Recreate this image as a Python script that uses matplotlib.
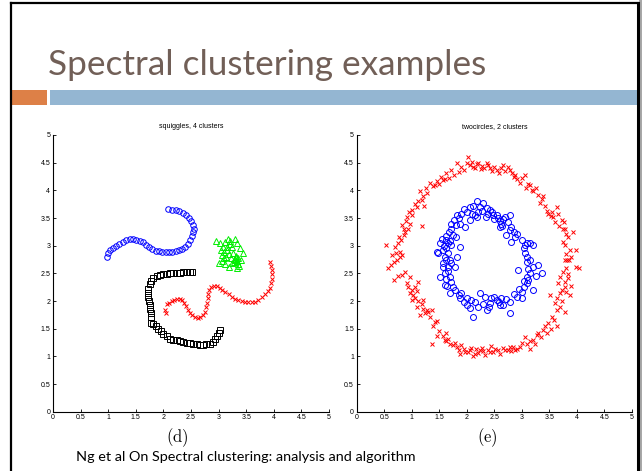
import matplotlib
matplotlib.use('Agg')
from matplotlib import pyplot as plt
from matplotlib.patches import Rectangle
from matplotlib.lines import Line2D

plt.rcParams['mathtext.fontset'] = 'cm'

# ---- data: squiggles, 4 clusters ----
sq_blue_x = [0.97, 1.00, 1.04, 1.09, 1.14, 1.20, 1.26, 1.33, 1.39, 1.45, 1.51, 1.57, 1.63, 1.68,
             1.74, 1.80, 1.86, 1.92, 1.98, 2.04, 2.10, 2.16, 2.22, 2.28, 2.34, 2.40, 2.45, 2.49,
             2.52, 2.54, 2.55, 2.53, 2.50, 2.46, 2.41, 2.35, 2.29, 2.22, 2.15, 2.08]
sq_blue_y = [2.80, 2.87, 2.92, 2.96, 3.00, 3.03, 3.07, 3.10, 3.12, 3.12, 3.11, 3.09, 3.06, 3.02,
             2.98, 2.94, 2.91, 2.90, 2.89, 2.89, 2.89, 2.89, 2.90, 2.92, 2.94, 2.98, 3.03, 3.10,
             3.17, 3.24, 3.31, 3.38, 3.44, 3.50, 3.55, 3.59, 3.62, 3.64, 3.65, 3.66]

sq_black_x = [2.52, 2.48, 2.42, 2.36, 2.30, 2.24, 2.18, 2.12, 2.06, 2.00, 1.94, 1.88, 1.82, 1.78,
              1.75, 1.73, 1.72, 1.73, 1.74, 1.75, 1.76, 1.77, 1.77, 1.78, 1.82, 1.86, 1.90, 1.95,
              2.00, 2.06, 2.12, 2.18, 2.24, 2.30, 2.36, 2.42, 2.48, 2.54, 2.60, 2.66, 2.72, 2.78,
              2.84, 2.90, 2.94, 2.97, 3.00, 3.02]
sq_black_y = [2.53, 2.52, 2.52, 2.52, 2.51, 2.51, 2.51, 2.50, 2.49, 2.48, 2.47, 2.45, 2.42, 2.37,
              2.30, 2.22, 2.14, 2.07, 2.00, 1.93, 1.86, 1.79, 1.72, 1.61, 1.58, 1.54, 1.50, 1.45,
              1.41, 1.36, 1.32, 1.30, 1.29, 1.28, 1.26, 1.25, 1.24, 1.23, 1.22, 1.21, 1.21, 1.22,
              1.23, 1.26, 1.31, 1.37, 1.42, 1.48]

sq_red_x = [2.03, 2.05, 2.06, 2.10, 2.15, 2.20, 2.25, 2.30, 2.34, 2.38, 2.41, 2.44, 2.48, 2.52,
            2.57, 2.62, 2.67, 2.71, 2.75, 2.78, 2.79, 2.80, 2.81, 2.83, 2.87, 2.92, 2.97, 3.02,
            3.07, 3.12, 3.18, 3.24, 3.30, 3.36, 3.42, 3.48, 3.54, 3.60, 3.66, 3.72, 3.78, 3.84,
            3.89, 3.93, 3.95, 3.96, 3.96, 3.96, 3.95, 3.94]
sq_red_y = [1.84, 1.79, 1.94, 1.97, 2.00, 2.02, 2.03, 2.03, 2.01, 1.97, 1.91, 1.84, 1.78, 1.74,
            1.71, 1.70, 1.71, 1.75, 1.81, 1.89, 1.97, 2.05, 2.13, 2.20, 2.26, 2.28, 2.27, 2.24,
            2.20, 2.16, 2.12, 2.08, 2.04, 2.01, 2.00, 1.99, 1.98, 1.98, 1.99, 2.02, 2.07, 2.12,
            2.18, 2.24, 2.32, 2.40, 2.48, 2.56, 2.64, 2.71]

sq_green_x = [2.96, 3.02, 3.08, 3.12, 3.17, 3.20, 3.24, 3.29, 3.33, 3.38, 3.44, 3.04, 3.10, 3.15,
              3.19, 3.26, 3.31, 3.35, 3.29, 3.33, 3.28, 3.36, 3.40, 3.22, 3.14, 3.06, 3.00, 3.07,
              3.12, 3.18, 3.25, 3.34, 3.37, 3.31, 3.30, 3.16, 3.21, 3.10]
sq_green_y = [3.09, 3.05, 2.98, 3.06, 3.12, 3.03, 2.97, 3.12, 3.05, 2.95, 2.87, 2.92, 2.88, 2.92,
              2.85, 2.87, 2.82, 2.78, 2.76, 2.72, 2.70, 2.66, 2.74, 2.78, 2.80, 2.83, 2.68, 2.72,
              2.66, 2.62, 2.68, 2.60, 2.63, 2.80, 2.74, 2.98, 3.08, 2.77]

# ---- data: twocircles, 2 clusters ----
tc_red_x = [1.63, 1.68, 1.72, 1.76, 1.82, 1.85, 1.90, 1.95, 2.00, 2.03, 2.06, 2.09, 2.12, 2.15,
            2.18, 2.21, 2.25, 2.28, 2.32, 2.36, 2.39, 2.42, 2.46, 2.50, 2.54, 2.58, 2.62, 2.66,
            2.70, 2.74, 2.78, 2.82, 2.85, 2.88, 2.92,
            2.97, 3.00, 3.06, 3.08, 3.12, 3.15, 3.19, 3.21, 3.25, 3.30, 3.33, 3.36, 3.39, 3.42,
            3.45, 3.48, 3.52, 3.55, 3.57, 3.60, 3.63, 3.66, 3.68, 3.72, 3.74, 3.78, 3.76, 3.80,
            3.84, 3.93,
            3.75, 3.78, 3.87, 3.99, 3.80, 3.90, 3.78, 3.82, 3.86, 3.99, 4.03, 3.81, 3.75, 3.84,
            3.69, 3.84, 3.78, 3.66, 3.78, 3.90, 3.72, 3.69, 3.87, 3.80, 3.51, 3.63, 3.72, 3.60,
            3.69, 3.78, 3.63, 3.54, 3.58, 3.63, 3.48, 3.52, 3.42, 3.39, 3.45, 3.30, 3.35, 3.27,
            3.21, 3.24, 3.15, 3.09, 3.15, 3.05, 2.97, 3.00, 2.92, 2.88, 2.84, 2.80,
            2.78, 2.74, 2.69, 2.65, 2.60, 2.56, 2.51, 2.47, 2.44, 2.42, 2.38, 2.33, 2.30, 2.27,
            2.24, 2.20, 2.17, 2.15, 2.11, 2.08, 2.06, 2.02, 1.97, 1.94, 1.90, 1.87, 1.85, 1.82,
            1.78, 1.74, 1.69, 1.66, 1.63, 1.60, 1.63, 1.57,
            1.45, 1.50, 1.42, 1.39, 1.36, 1.45, 1.33, 1.30, 1.27, 1.36, 1.24, 1.21, 1.15, 1.18,
            1.09, 1.12, 1.21, 1.06, 1.00, 1.03, 0.97, 1.09, 1.06, 1.00, 0.93, 0.91, 1.12, 0.97,
            0.82, 0.88, 0.67, 0.75,
            0.57, 0.62, 0.73, 0.68, 0.78, 0.64, 0.72, 0.79, 0.82, 0.70, 0.75, 0.54, 0.80, 0.76,
            0.85, 0.88, 0.85, 0.93, 0.97, 0.90, 0.82,
            0.91, 1.00, 0.95, 1.00, 1.09, 1.05, 1.12, 1.18, 1.22, 1.15, 1.20, 1.27, 1.25, 1.33,
            1.38, 1.45, 1.42, 1.50, 1.57, 1.53, 1.60, 1.18]
tc_red_y = [4.31, 4.22, 4.37, 4.28, 4.49, 4.33, 4.42, 4.37, 4.50, 4.60, 4.45, 4.52, 4.43, 4.40,
            4.47, 4.49, 4.38, 4.44, 4.41, 4.49, 4.45, 4.40, 4.35, 4.43, 4.37, 4.31, 4.40, 4.46,
            4.35, 4.42, 4.37, 4.31, 4.25, 4.28, 4.20,
            4.13, 4.22, 4.28, 4.05, 4.12, 4.10, 4.00, 3.98, 4.05, 3.92, 3.77, 3.85, 3.89, 3.72,
            3.63, 3.58, 3.53, 3.60, 3.52, 3.42, 3.70, 3.58, 3.36, 3.46, 3.30, 3.31, 3.42, 3.22,
            3.15, 3.25,
            3.07, 3.02, 2.92, 2.92, 2.85, 2.80, 2.74, 2.74, 2.74, 2.62, 2.60, 2.59, 2.52, 2.48,
            2.44, 2.41, 2.35, 2.32, 2.26, 2.28, 2.20, 2.14, 2.11, 2.16, 2.11, 2.05, 2.00, 1.97,
            1.90, 1.81, 1.84, 1.72, 1.65, 1.54, 1.60, 1.50, 1.55, 1.48, 1.42, 1.42, 1.35, 1.38,
            1.30, 1.22, 1.27, 1.23, 1.14, 1.35, 1.17, 1.25, 1.14, 1.11, 1.17, 1.10,
            1.17, 1.12, 1.11, 1.15, 1.05, 1.12, 1.14, 1.08, 1.18, 1.08, 1.12, 1.02, 1.10, 1.15,
            1.11, 1.06, 1.13, 1.05, 1.00, 1.16, 1.11, 1.08, 1.08, 1.14, 1.20, 1.05, 1.12, 1.17,
            1.25, 1.20, 1.23, 1.32, 1.27, 1.30, 1.42, 1.36,
            1.36, 1.45, 1.62, 1.54, 1.22, 1.63, 1.72, 1.80, 1.84, 1.84, 1.78, 1.85, 1.75, 1.95,
            1.90, 2.00, 2.02, 2.05, 2.02, 2.10, 2.14, 2.18, 2.26, 2.20, 2.25, 2.32, 2.35, 2.44,
            2.47, 2.52, 2.38, 2.46,
            2.59, 2.65, 2.74, 2.70, 2.80, 2.83, 2.86, 2.89, 2.84, 2.98, 3.04, 3.01, 3.10, 3.16,
            3.20, 3.25, 3.31, 3.30, 3.40, 3.45, 3.38,
            3.52, 3.55, 3.60, 3.64, 3.70, 3.75, 3.80, 3.83, 3.72, 3.98, 3.90, 3.95, 4.05, 4.13,
            4.08, 4.16, 4.10, 4.12, 4.19, 4.25, 4.20, 3.36]

tc_blue_x = [2.18, 2.30, 2.12, 2.24, 2.06, 1.94, 2.00, 2.36, 2.42, 2.45, 2.38, 2.48, 2.54, 2.56,
             2.60, 2.62, 2.66, 2.70, 2.78, 2.75, 2.60, 2.64, 2.20, 2.28, 2.14, 2.06, 2.18, 2.10,
             1.90, 1.82, 1.86, 1.76, 1.88, 1.97, 1.80, 1.72, 2.34, 2.50,
             2.81, 2.78, 2.72, 2.85, 2.91, 2.88, 2.81, 3.00, 3.06, 3.09, 3.03, 3.21, 3.15, 3.06,
             3.10, 3.15, 3.09, 3.30, 3.20, 3.12, 2.93, 3.36, 3.15, 3.25, 3.09, 3.09, 3.03, 3.12,
             3.21, 3.03, 3.00, 2.95, 2.91, 3.00, 2.85,
             2.78, 2.72, 2.66, 2.78, 2.60, 2.54, 2.58, 2.62, 2.50, 2.42, 2.44, 2.36, 2.40, 2.33,
             2.30, 2.24, 2.21, 2.15, 2.06, 2.11, 2.08, 2.00, 1.94, 2.00, 1.88, 1.85, 1.90,
             1.78, 1.69, 1.74, 1.64, 1.60, 1.72, 1.51, 1.62, 1.69, 1.60, 1.66, 1.57, 1.66, 1.79,
             1.72, 1.57, 1.62, 1.69, 1.60, 1.82, 1.66, 1.48, 1.45, 1.56, 1.62, 1.72, 1.66, 1.51,
             1.58, 1.88, 1.63, 1.55, 1.70, 1.75, 1.68, 1.80, 1.72, 1.62]
tc_blue_y = [3.81, 3.77, 3.72, 3.70, 3.70, 3.66, 3.60, 3.68, 3.64, 3.60, 3.58, 3.55, 3.55, 3.50,
             3.45, 3.40, 3.49, 3.52, 3.55, 3.42, 3.34, 3.36, 3.60, 3.62, 3.55, 3.46, 3.52, 3.58,
             3.58, 3.55, 3.50, 3.46, 3.40, 3.34, 3.38, 3.40, 3.52, 3.48,
             3.34, 3.28, 3.19, 3.25, 3.22, 3.15, 3.07, 3.10, 3.02, 3.04, 2.96, 3.01, 3.05, 2.86,
             2.80, 2.74, 2.70, 2.65, 2.62, 2.58, 2.56, 2.50, 2.50, 2.46, 2.44, 2.32, 2.26, 2.38,
             2.20, 2.36, 2.17, 2.22, 2.08, 2.05, 2.12,
             1.99, 2.04, 1.93, 1.79, 1.93, 2.02, 1.98, 2.06, 2.07, 1.96, 2.05, 1.84, 1.90, 2.08,
             1.95, 2.14, 1.90, 1.98, 1.87, 1.72, 2.02, 2.05, 1.99, 1.92, 2.06, 2.11, 2.15,
             2.20, 2.14, 2.25, 2.28, 2.29, 2.34, 2.44, 2.40, 2.44, 2.50, 2.55, 2.62, 2.62, 2.62,
             2.68, 2.68, 2.74, 2.74, 2.80, 2.80, 2.86, 2.86, 2.89, 2.92, 2.95, 3.01, 3.04, 3.04,
             3.00, 2.98, 3.10, 3.12, 3.08, 3.20, 3.25, 3.15, 3.30, 3.18]

ticks = [0, 0.5, 1, 1.5, 2, 2.5, 3, 3.5, 4, 4.5, 5]
tick_labels = ['0', '0.5', '1', '1.5', '2', '2.5', '3', '3.5', '4', '4.5', '5']


def style_axes(ax, title):
    ax.set_xlim(0, 5)
    ax.set_ylim(0, 5)
    ax.set_xticks(ticks)
    ax.set_yticks(ticks)
    ax.set_xticklabels(tick_labels, family='Liberation Sans')
    ax.set_yticklabels(tick_labels, family='Liberation Sans')
    ax.tick_params(direction='in', length=2.5, width=0.6, labelsize=5, pad=2)
    for side in ('top', 'right'):
        ax.spines[side].set_visible(False)
    for side in ('left', 'bottom'):
        ax.spines[side].set_linewidth(0.8)
    ax.set_title(title, fontsize=5, family='Liberation Sans', pad=5)


fig = plt.figure(figsize=(6.42, 4.71), dpi=100)

# slide frame
fig.add_artist(Rectangle((639 / 642, 0), 3 / 642, 1, transform=fig.transFigure,
                         facecolor='#a8a8a8', edgecolor='none'))
fig.add_artist(Line2D([11 / 642, 11 / 642], [0, 1 - 3 / 471], transform=fig.transFigure,
                      color='black', lw=1.6))
fig.add_artist(Line2D([11 / 642, 638 / 642], [1 - 3 / 471, 1 - 3 / 471], transform=fig.transFigure,
                      color='black', lw=1.6))
fig.add_artist(Line2D([637.5 / 642, 637.5 / 642], [0, 1 - 3 / 471], transform=fig.transFigure,
                      color='black', lw=2.2))

# header
fig.text(48 / 642, 1 - 75 / 471, 'Spectral clustering examples', family='Lato',
         fontsize=25.3, color='#715f57', ha='left', va='baseline')
fig.add_artist(Rectangle((11 / 642, 1 - 105 / 471), 36 / 642, 15 / 471, transform=fig.transFigure,
                         facecolor='#dd8047', edgecolor='none'))
fig.add_artist(Rectangle((50 / 642, 1 - 105 / 471), 587 / 642, 15 / 471, transform=fig.transFigure,
                         facecolor='#94b6d2', edgecolor='none'))

# left panel
ax1 = fig.add_axes([53 / 642, 59.3 / 471, 276 / 642, 276.7 / 471])
ax1.plot(sq_blue_x, sq_blue_y, 'o', ms=4, mfc='none', mec='#0000ff', mew=0.7)
ax1.plot(sq_green_x, sq_green_y, '^', ms=4.5, mfc='none', mec='#00ee00', mew=0.7)
ax1.plot(sq_black_x, sq_black_y, 's', ms=3.8, mfc='none', mec='black', mew=0.7)
ax1.plot(sq_red_x, sq_red_y, 'x', ms=3, mec='#ff0000', mew=0.7)
style_axes(ax1, 'squiggles, 4 clusters')

# right panel
ax2 = fig.add_axes([356.7 / 642, 59.3 / 471, 275.3 / 642, 276.7 / 471])
ax2.plot(tc_red_x, tc_red_y, 'x', ms=3, mec='#ff0000', mew=0.7)
ax2.plot(tc_blue_x, tc_blue_y, 'o', ms=4.3, mfc='none', mec='#0000ff', mew=0.7)
style_axes(ax2, 'twocircles, 2 clusters')

fig.text(177 / 642, 1 - 438 / 471, r'$(\mathrm{d})$', fontsize=12, ha='center', va='center')
fig.text(487 / 642, 1 - 438 / 471, r'$(\mathrm{e})$', fontsize=12, ha='center', va='center')

fig.text(76 / 642, 1 - 461 / 471, 'Ng et al On Spectral clustering: analysis and algorithm',
         family='Lato', fontsize=10.4, color='black', ha='left', va='baseline')

fig.savefig('out.png', dpi=100)
